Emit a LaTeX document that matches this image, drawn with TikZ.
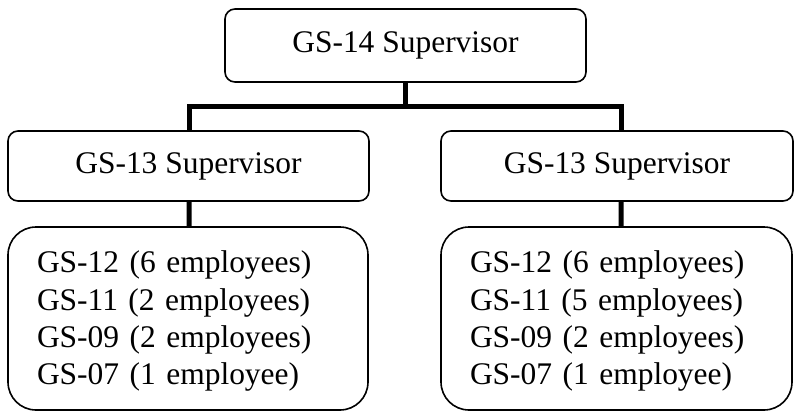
\documentclass[tikz,border=0pt]{standalone}
\usepackage{fontspec}
\setmainfont{Liberation Serif}
\begin{document}
\begin{tikzpicture}[x=0.75pt,y=-0.75pt,
  txt/.style={font=\fontsize{23.6pt}{28pt}\selectfont},
  supbox/.style={draw,line width=1.2pt,rounded corners=7.5pt,inner sep=0pt,txt},
  listbox/.style={draw,line width=1.2pt,rounded corners=21pt,inner xsep=21.75pt,inner ysep=0pt,align=left,minimum height=137.25pt,txt},
  conn/.style={line width=3.75pt}]
\useasboundingbox (0,0) rectangle (794,412);
\node[supbox,minimum width=270.75pt,minimum height=54.75pt] (top) at (405.5,45.5) {GS-14 Supervisor};
\node[supbox,minimum width=270.75pt,minimum height=52.5pt] (ml) at (188.5,166) {GS-13 Supervisor};
\node[supbox,minimum width=264pt,minimum height=52.5pt] (mr) at (617,166) {GS-13 Supervisor};
\node[listbox,text width=226.5pt] (bl) at (188,318.5) {\rule{0pt}{20.8pt}GS-12 (6 employees)\\GS-11 (2 employees)\\GS-09 (2 employees)\\GS-07 (1 employee)};
\node[listbox,text width=219.75pt] (br) at (616.5,318.5) {\rule{0pt}{20.8pt}GS-12 (6 employees)\\GS-11 (5 employees)\\GS-09 (2 employees)\\GS-07 (1 employee)};
\coordinate (bus) at (405.5,106);
\draw[conn] (top.south) -- (bus);
\draw[conn] ([xshift=0.4pt]ml.north) |- (bus) -| ([xshift=3pt]mr.north);
\draw[conn] ([xshift=0.4pt]ml.south) -- ([xshift=0.75pt]bl.north);
\draw[conn] ([xshift=3pt]mr.south) -- ([xshift=3.4pt]br.north);
\end{tikzpicture}
\end{document}
